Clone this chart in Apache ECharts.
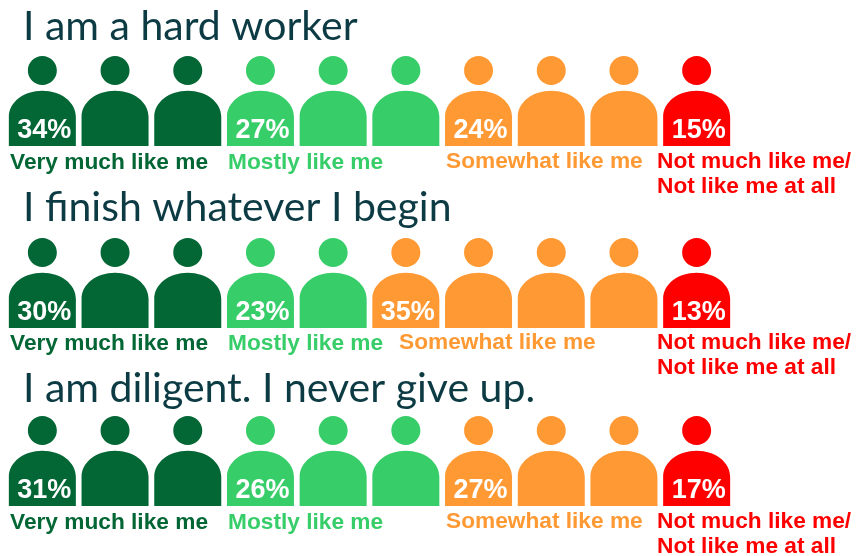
<!DOCTYPE html>
<html>
<head>
<meta charset="utf-8">
<style>
  html, body { margin: 0; padding: 0; background: #fff; }
  #chart { width: 859px; height: 556px; }
</style>
<script src="https://cdn.jsdelivr.net/npm/echarts@6/dist/echarts.min.js"></script>
</head>
<body>
<div id="chart"></div>
<script>
// survey statements, top to bottom
const questions = ['I am a hard worker', 'I finish whatever I begin', 'I am diligent. I never give up.'];
const buckets = ['Very much like me', 'Mostly like me', 'Somewhat like me', 'Not much like me/\nNot like me at all'];
// share per bucket
const hardWorkerPct = [34, 27, 24, 15];
const finishPct = [30, 23, 35, 13];
const diligentPct = [31, 26, 27, 17];
// people icons per bucket
const hardWorkerIcons = [3, 3, 3, 1];
const finishIcons = [3, 2, 4, 1];
const diligentIcons = [3, 3, 3, 1];

const percents = [hardWorkerPct, finishPct, diligentPct];
const icons = [hardWorkerIcons, finishIcons, diligentIcons];

// layout
const colors = ['#036635', '#37cd69', '#ff9933', '#ff0000'];
const rowTop = [56, 238, 416];
const titleTop = [6, 187, 368];
const labelTop = [150, 331, 510];
const labelLeft = [
  [10, 228, 446, 657],
  [10, 228, 399, 657],
  [10, 228, 446, 657]
];
const labelTopNudge = [0, 0, -1, -1];

// head + shoulders, drawn on a 67x90 box
const person = 'path://M33.5 0C41.5 0 48 6.5 48 14.5C48 22.5 41.5 29 33.5 29C25.5 29 19 22.5 19 14.5C19 6.5 25.5 0 33.5 0Z' +
  'M33.5 34.7C52 34.7 67 46 67 61L67 90L0 90L0 61C0 46 15 34.7 33.5 34.7Z';

const grids = [], xAxes = [], yAxes = [], series = [], titles = [], texts = [];

questions.forEach((q, row) => {
  titles.push({
    text: q,
    left: 23,
    top: titleTop[row],
    padding: 0,
    textStyle: { fontFamily: 'Lato', fontSize: 41, fontWeight: 'normal', color: '#0d3b44' }
  });
  grids.push({ left: 6, width: 727, top: rowTop[row], height: 90 });
  xAxes.push({ type: 'value', gridIndex: row, min: -0.5, max: 9.5, show: false });
  yAxes.push({ type: 'value', gridIndex: row, min: 0, max: 1, show: false });

  let slot = 0;
  buckets.forEach((name, b) => {
    const data = [];
    for (let i = 0; i < icons[row][b]; i++) {
      data.push([slot++, 0.5]);
    }
    series.push({
      type: 'scatter',
      name: name,
      xAxisIndex: row,
      yAxisIndex: row,
      symbol: person,
      symbolSize: [67, 90],
      itemStyle: { color: colors[b], opacity: 1 },
      silent: true,
      data: data,
      label: {
        show: true,
        position: 'inside',
        offset: [2, 30],
        // percentage only sits on the first icon of the bucket
        formatter: p => (p.dataIndex === 0 ? percents[row][b] + '%' : ''),
        color: '#fff',
        fontFamily: 'Liberation Sans',
        fontWeight: 'bold',
        fontSize: 27
      }
    });
    texts.push({
      type: 'text',
      left: labelLeft[row][b],
      top: labelTop[row] + labelTopNudge[b],
      style: {
        text: name,
        fill: colors[b],
        font: 'bold 22.7px "Liberation Sans"',
        lineHeight: 25
      }
    });
  });
});

const chart = echarts.init(document.getElementById('chart'), null, { renderer: 'canvas' });
chart.setOption({
  animation: false,
  backgroundColor: '#fff',
  title: titles,
  grid: grids,
  xAxis: xAxes,
  yAxis: yAxes,
  series: series,
  graphic: texts
});
</script>
</body>
</html>
